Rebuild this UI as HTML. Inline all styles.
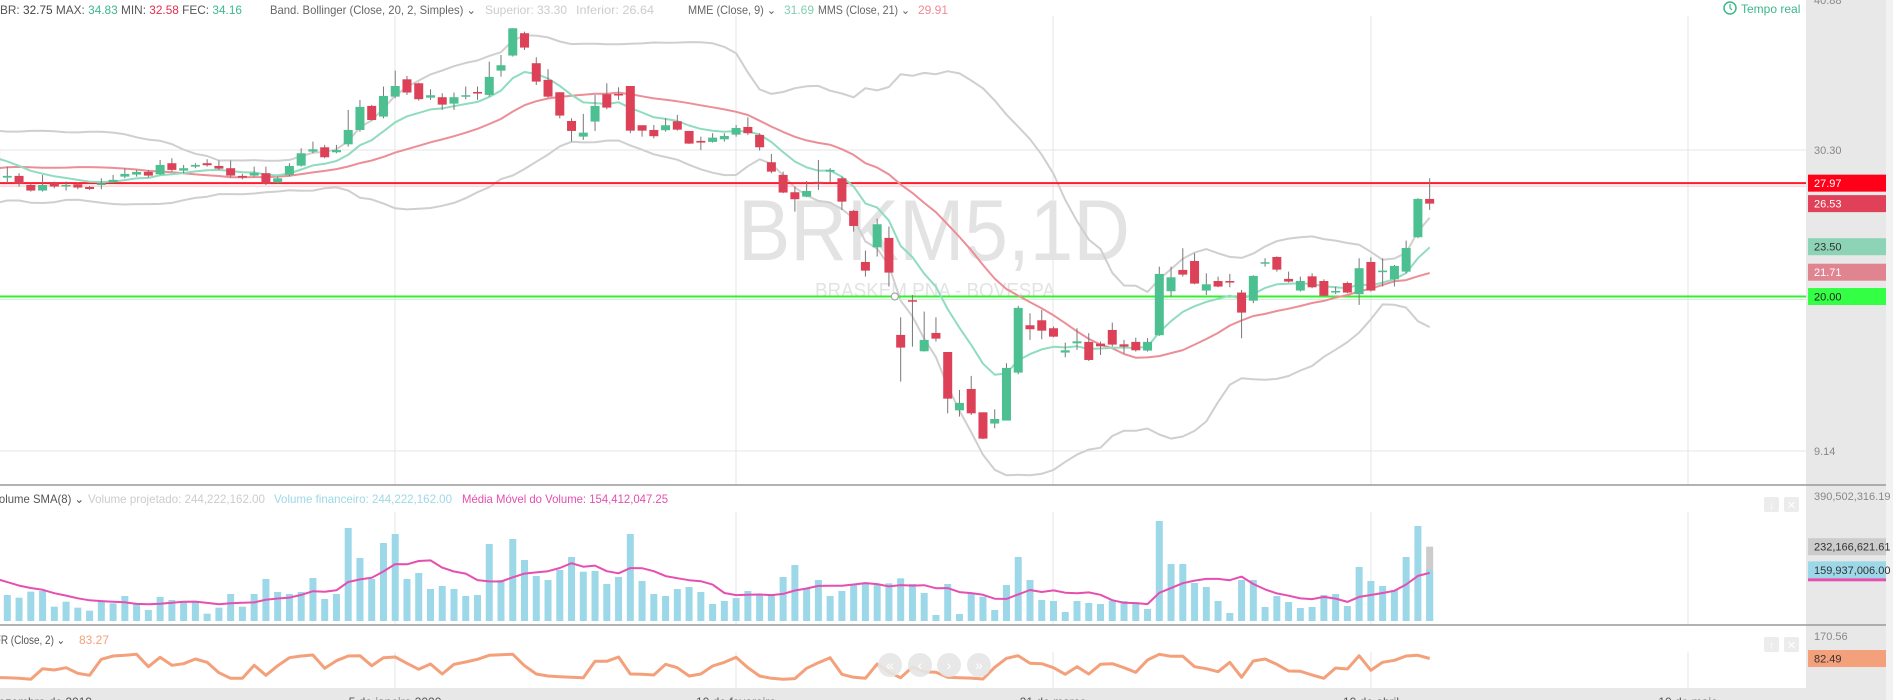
<!DOCTYPE html>
<html><head><meta charset="utf-8">
<style>
html,body{margin:0;padding:0;background:#fff;}
svg{display:block;font-family:"Liberation Sans",sans-serif;}
</style></head>
<body>
<svg id="chart" width="1893" height="700" viewBox="0 0 1893 700" xmlns="http://www.w3.org/2000/svg">
<defs>
<clipPath id="cp-price"><rect x="0" y="0" width="1806" height="485"/></clipPath>
<clipPath id="cp-vol"><rect x="0" y="486" width="1806" height="139"/></clipPath>
<clipPath id="cp-rsi"><rect x="0" y="626" width="1806" height="62"/></clipPath>
</defs>
<rect x="0" y="0" width="1893" height="700" fill="#fff"/>
<rect x="1806" y="0" width="80" height="700" fill="#e8e8e8"/>
<rect x="1886" y="0" width="7" height="700" fill="#f2f2f2"/>
<rect x="0" y="688" width="1806" height="12" fill="#e8e8e8"/>
<g id="grid"></g>
<g>
<text x="738" y="260" font-size="86" fill="#e3e3e3" textLength="392" lengthAdjust="spacingAndGlyphs">BRKM5,1D</text>
<text x="815" y="297" font-size="20" fill="#e3e3e3" textLength="240" lengthAdjust="spacingAndGlyphs">BRASKEM PNA - BOVESPA</text>
</g>
<g id="price" clip-path="url(#cp-price)"></g>
<g id="vol" clip-path="url(#cp-vol)"></g>
<g id="rsi" clip-path="url(#cp-rsi)"></g>
<line x1="0" y1="485" x2="1886" y2="485" stroke="#999" stroke-width="1.5"/>
<line x1="0" y1="625" x2="1886" y2="625" stroke="#999" stroke-width="1.5"/>
<g font-size="12">
<text x="0" y="14" textLength="242" lengthAdjust="spacingAndGlyphs"><tspan fill="#555">BR: </tspan><tspan fill="#444">32.75</tspan><tspan fill="#555"> MAX: </tspan><tspan fill="#3cb88a">34.83</tspan><tspan fill="#555">  MIN: </tspan><tspan fill="#e0304a">32.58</tspan><tspan fill="#555"> FEC: </tspan><tspan fill="#3cb88a">34.16</tspan></text>
<text x="270" y="14" fill="#666" textLength="206" lengthAdjust="spacingAndGlyphs">Band. Bollinger (Close, 20, 2, Simples) ⌄</text>
<text x="485" y="14" fill="#ccc" textLength="82" lengthAdjust="spacingAndGlyphs">Superior: 33.30</text>
<text x="576" y="14" fill="#ccc" textLength="78" lengthAdjust="spacingAndGlyphs">Inferior: 26.64</text>
<text x="688" y="14" fill="#666" textLength="88" lengthAdjust="spacingAndGlyphs">MME (Close, 9) ⌄</text>
<text x="784" y="14" fill="#7fd0b0">31.69</text>
<text x="818" y="14" fill="#666" textLength="92" lengthAdjust="spacingAndGlyphs">MMS (Close, 21) ⌄</text>
<text x="918" y="14" fill="#f08a94">29.91</text>
</g>
<g>
<circle cx="1730" cy="8" r="6" fill="none" stroke="#3cb88a" stroke-width="1.5"/>
<path d="M1730 4 V8 L1732 10" fill="none" stroke="#3cb88a" stroke-width="1.2"/>
<text x="1741" y="13" font-size="12" fill="#3cb88a">Tempo real</text>
</g>
<g font-size="12">
<text x="-8" y="503" fill="#555" textLength="92" lengthAdjust="spacingAndGlyphs">Volume SMA(8) ⌄</text>
<text x="88" y="503" fill="#ccc" textLength="177" lengthAdjust="spacingAndGlyphs">Volume projetado: 244,222,162.00</text>
<text x="274" y="503" fill="#9dd8e8" textLength="178" lengthAdjust="spacingAndGlyphs">Volume financeiro: 244,222,162.00</text>
<text x="462" y="503" fill="#e64eb0" textLength="206" lengthAdjust="spacingAndGlyphs">Média Móvel do Volume: 154,412,047.25</text>
</g>
<g font-size="12">
<text x="-8" y="644" fill="#555" textLength="73" lengthAdjust="spacingAndGlyphs">IFR (Close, 2) ⌄</text>
<text x="79" y="644" fill="#f4a07a">83.27</text>
</g>
<g>
<rect x="1764" y="497" width="15" height="15" rx="2" fill="#ececec"/>
<text x="1771.5" y="509" font-size="11" fill="#fff" text-anchor="middle">↓</text>
<rect x="1784" y="497" width="15" height="15" rx="2" fill="#ececec"/>
<text x="1791.5" y="509" font-size="11" fill="#fff" text-anchor="middle">✕</text>
</g>
<g>
<rect x="1764" y="637" width="15" height="15" rx="2" fill="#ececec"/>
<text x="1771.5" y="649" font-size="11" fill="#fff" text-anchor="middle">↑</text>
<rect x="1784" y="637" width="15" height="15" rx="2" fill="#ececec"/>
<text x="1791.5" y="649" font-size="11" fill="#fff" text-anchor="middle">✕</text>
</g>
<g id="axis"></g>
<g>
<circle cx="890" cy="665" r="12" fill="#e6e6e6" opacity="0.9"/>
<text x="890" y="670" font-size="14" fill="#fff" text-anchor="middle">«</text>
<circle cx="920" cy="665" r="12" fill="#e6e6e6" opacity="0.9"/>
<text x="920" y="670" font-size="14" fill="#fff" text-anchor="middle">‹</text>
<circle cx="949" cy="665" r="12" fill="#e6e6e6" opacity="0.9"/>
<text x="949" y="670" font-size="14" fill="#fff" text-anchor="middle">›</text>
<circle cx="979" cy="665" r="12" fill="#e6e6e6" opacity="0.9"/>
<text x="979" y="670" font-size="14" fill="#fff" text-anchor="middle">»</text>
</g>
</svg>
<script>
const opens=[30.31,28.36,28.48,27.84,27.45,27.96,27.73,27.89,27.70,27.84,28.01,28.43,28.57,28.76,28.59,29.37,28.85,29.13,29.37,29.18,29.02,28.48,28.50,28.67,28.01,28.55,29.20,30.19,30.49,30.14,30.70,31.71,33.40,32.65,34.05,35.27,34.99,33.98,34.01,33.56,34.05,34.38,34.17,35.88,36.94,38.51,36.40,35.23,34.36,32.34,31.24,32.30,34.22,34.24,34.80,32.04,31.71,31.69,32.32,31.64,30.94,30.87,31.05,31.38,31.92,31.36,29.44,28.55,27.33,27.02,28.06,28.78,28.31,26.02,22.43,23.46,24.12,17.30,19.74,16.15,17.44,16.10,12.00,13.50,11.86,11.07,11.28,14.65,17.98,18.33,17.77,16.06,16.71,16.81,16.69,17.65,16.64,16.81,16.20,17.28,20.37,21.87,22.50,20.42,21.09,21.09,20.28,19.71,22.31,22.78,21.24,20.42,21.42,21.09,20.28,20.95,20.16,22.43,21.71,21.21,21.75,24.17,26.86];
const highs=[30.42,29.13,28.67,27.96,28.55,28.08,28.08,28.01,27.77,28.31,28.55,29.02,28.90,28.90,29.60,29.72,29.25,29.37,29.65,29.56,29.56,28.62,29.13,29.13,28.43,29.37,30.42,30.89,30.66,30.66,33.12,33.82,33.47,34.76,35.88,35.51,35.04,34.57,34.29,34.34,34.76,34.76,36.51,36.98,38.86,38.62,36.82,35.98,34.36,32.53,32.84,34.17,34.99,34.71,34.80,32.04,32.06,32.53,32.77,31.64,31.24,31.48,31.48,32.06,32.60,31.48,30.02,28.78,27.73,28.12,29.60,29.02,28.43,26.09,23.23,25.48,24.92,18.54,20.11,18.94,18.54,16.10,13.43,14.42,11.86,12.07,15.31,19.34,18.82,19.06,17.89,16.76,17.77,17.42,16.83,18.17,16.95,17.11,17.07,22.10,22.10,23.39,23.04,21.63,21.40,21.59,20.46,21.49,22.69,22.83,21.75,21.40,21.63,21.21,20.70,21.05,22.69,22.76,22.69,22.22,23.93,26.91,28.31];
const lows=[27.73,27.96,27.73,27.38,27.38,27.61,27.45,27.54,27.49,27.54,27.96,28.31,28.43,28.38,28.55,28.78,28.67,29.02,29.13,28.90,28.38,28.24,28.43,27.84,27.92,28.43,29.13,30.07,29.72,30.07,30.54,31.59,32.37,32.53,33.94,34.17,33.77,33.82,33.12,33.12,33.87,33.82,34.05,35.46,36.87,37.33,34.87,33.98,32.53,30.89,31.01,31.64,33.16,33.82,31.48,31.24,31.12,31.59,31.66,30.73,30.30,30.82,30.89,31.24,31.36,30.26,28.67,27.26,25.97,26.98,27.49,28.01,26.09,24.56,21.40,22.81,20.70,14.02,16.48,16.13,16.83,11.79,11.56,11.67,9.97,10.74,11.28,14.53,16.95,17.00,17.14,15.73,16.25,15.47,15.89,16.48,16.01,16.13,16.13,17.23,20.00,21.40,20.86,20.11,20.65,20.65,17.07,19.53,22.10,21.75,20.98,20.35,20.58,20.04,20.18,20.23,19.41,20.35,20.70,20.70,21.63,24.10,26.09];
const closes=[28.43,28.48,27.92,27.45,27.84,27.73,27.84,27.66,27.56,27.96,28.20,28.62,28.76,28.50,29.25,28.90,29.02,29.25,29.23,28.99,28.50,28.36,28.69,27.92,28.31,29.18,30.07,30.35,29.79,30.30,31.71,33.33,32.41,34.10,34.80,34.34,33.87,34.15,33.49,34.01,34.15,34.27,35.44,36.26,38.86,37.50,35.11,34.05,32.72,31.64,31.52,33.40,33.28,34.13,31.66,31.66,31.27,32.04,31.73,30.75,30.82,31.17,31.29,31.85,31.48,30.49,28.78,27.31,26.84,27.42,27.92,28.90,26.67,24.96,21.82,25.08,21.68,16.41,19.64,16.95,17.04,12.82,12.52,11.79,10.01,11.39,14.98,19.20,17.70,17.60,17.18,16.22,16.85,15.54,16.50,16.62,16.48,16.22,16.81,21.59,21.35,21.54,20.91,20.86,20.70,20.98,18.87,21.45,22.41,21.89,21.05,21.09,20.65,20.06,20.39,20.28,21.99,20.42,21.82,22.15,23.41,26.86,26.53];
const priorCloses=[27.0,26.8,27.3,27.9,28.5,28.0,27.4,27.0,27.6,28.3,29.0,29.6,30.1,30.6,30.2,29.9,30.5,31.0,30.6,30.0,30.3];
const volumesM=[80,81.2,72.8,91.6,93.7,44.8,60.4,41.7,32.3,60.4,55.2,78.1,55.2,34.4,75.0,65.6,59.4,62.5,22.9,41.7,84.3,44.8,84.3,131.2,90.6,84.3,90.6,134.3,68.7,84.3,290.5,196.8,131.2,243.7,271.8,131.2,150.0,100.0,109.3,100.0,78.1,81.2,240.5,128.1,256.2,190.6,140.6,128.1,159.3,199.9,154.0,156.2,115.6,137.5,271.8,125.0,84.3,78.1,100.0,106.2,90.6,53.1,62.5,71.9,93.7,84.3,84.3,137.5,174.9,102.1,128.1,78.1,93.7,112.5,120.8,112.5,117.7,133.3,115.6,87.5,18.7,115.6,21.9,86.4,76.0,34.4,112.5,199.9,128.1,65.6,62.5,28.1,62.5,56.2,53.1,63.5,62.5,58.3,37.5,312.4,178.1,178.1,118.7,106.2,62.5,25.0,128.1,128.1,43.7,78.1,59.4,40.6,43.7,81.2,84.3,46.9,168.7,125.0,109.3,96.8,199.9,296.8,159.937006];
const priorVolumesM=[170,160,150,140,130,120,110];
const projectedVolumeM=232.16662161;
const rsiValues=[8,7.5,5,1,42.7,37.6,46.6,24.6,16.8,79.4,92.4,95,99,50.5,87.3,56,62.2,80.6,67.7,27,5,5,56,16.8,54.4,85.7,92.4,96.3,44.2,74,92.4,93.5,54.4,85.7,88.5,63.8,40.3,61,21.9,59.9,68.9,79.4,95,97.5,99,54.4,21.9,14.1,11.4,9,7.5,71.6,71.6,88.5,21.9,20.7,18,59.9,46.6,14.1,21.9,53.2,67.7,87.3,46.6,14.1,5,1,4,44.2,66.2,85.7,20.7,9,5,61,28.6,7.4,49.3,30.9,28.6,9,7.4,6,2.3,48.1,83.4,93.5,63.8,62.2,46.6,20.7,50.5,21.9,59.9,62.2,46.6,28.6,76.7,99,91.2,91.2,50.5,42.7,30.9,67.7,9,72.8,80.6,59.9,33.7,32.3,18,5,45.4,41.5,93.5,36.4,67.7,75.5,92.4,95.1,82.49];
const priceTicks=[40.88,30.30,9.14];
const volumeTicks=[390502316.19];
const rsiTicks=[170.56];
const emaLast=23.50;
const smaLast=21.71;
const resistanceLevel=27.97;
const supportLevel=20.00;
const dateLabels=["Dezembro de 2019","5 de janeiro 2020","10 de fevereiro","21 de março","10 de abril","10 de maio"];
const dateGridX=[0,395,736,1053,1371,1688];

const NS="http://www.w3.org/2000/svg";
function mk(tag,attrs,parent){const e=document.createElementNS(NS,tag);for(const k in attrs)e.setAttribute(k,attrs[k]);parent.appendChild(e);return e;}
const xOf=i=>-4.455+i*11.755;
const yP=p=>150+(30.30-p)*14.225;
const yV=m=>621-m/390.5*125;
const yR=v=>679.6-v*0.2555;
const fmt=v=>v.toLocaleString('en-US',{minimumFractionDigits:2,maximumFractionDigits:2});

const grid=document.getElementById('grid');
[yP(priceTicks[1]),yP(priceTicks[2])].forEach(y=>{
  const l=mk('line',{x1:0,x2:1806,y1:y,y2:y,stroke:'#e6e6e6','stroke-width':1},grid);
  
  
});
dateGridX.slice(1).forEach(x=>{
  [[16,485],[512,625],[652,688]].forEach(r=>{
    const l=mk('line',{x1:x,x2:x,y1:r[0],y2:r[1],stroke:'#e6e6e6','stroke-width':1},grid);
    
    
  });
});

const pg=document.getElementById('price');
const all=priorCloses.concat(closes);const P=priorCloses.length;
const ema=[],sma=[],bbU=[],bbL=[];
let e=all.slice(0,9).reduce((a,b)=>a+b,0)/9;
for(let k=0;k<all.length;k++){
  if(k>=9)e=all[k]*0.2+e*0.8;
  if(k>=P){
    ema.push(e);
    const w21=all.slice(k-20,k+1);sma.push(w21.reduce((a,b)=>a+b,0)/21);
    const w20=all.slice(k-19,k+1);const m=w20.reduce((a,b)=>a+b,0)/20;
    const sd=Math.sqrt(w20.reduce((a,b)=>a+(b-m)*(b-m),0)/20);
    bbU.push(m+2*sd);bbL.push(m-2*sd);
  }
}
function poly(arr,yf,color,w,name,parent){
  const pts=arr.map((v,i)=>xOf(i).toFixed(1)+','+yf(v).toFixed(1)).join(' ');
  const pl=mk('polyline',{points:pts,fill:'none',stroke:color,'stroke-width':w,'stroke-linejoin':'round'},parent);
  
  
}
poly(bbU,yP,'#cfcfcf',2,'bollinger-upper',pg);
poly(bbL,yP,'#cfcfcf',2,'bollinger-lower',pg);

[[resistanceLevel,'#ff1a2e','#ffc0c6','resistance-line'],[supportLevel,'#33ee33','#c8f7c8','support-line']].forEach(d=>{
  const y=yP(d[0]);
  mk('line',{x1:0,x2:1806,y1:y+3,y2:y+3,stroke:d[2],'stroke-width':1},pg);
  const l=mk('line',{x1:0,x2:1806,y1:y,y2:y,stroke:d[1],'stroke-width':2},pg);
  
  
});

poly(sma,yP,'#ec8e97',2,'sma21-line',pg);
poly(ema,yP,'#8fdcbf',2,'ema9-line',pg);

for(let i=0;i<closes.length;i++){
  const x=xOf(i),up=closes[i]>=opens[i];
  const col=up?'#4cc090':'#dd4157';
  const w=mk('line',{x1:x,x2:x,y1:yP(highs[i]),y2:yP(lows[i]),stroke:'#777','stroke-width':1},pg);
  
  
  const t=yP(Math.max(opens[i],closes[i])),b=yP(Math.min(opens[i],closes[i]));
  const r=mk('rect',{x:x-4.5,y:t,width:9,height:Math.max(1.5,b-t),fill:col},pg);
  
  
}
const mark=mk('circle',{cx:xOf(76.5),cy:yP(supportLevel),r:3.5,fill:'#fff',stroke:'#999','stroke-width':1},pg);



const vg=document.getElementById('vol');
const lastI=volumesM.length-1;
const pj=mk('rect',{x:xOf(lastI)-3.5,y:yV(projectedVolumeM),width:7,height:yV(0)-yV(projectedVolumeM),fill:'#cccccc'},vg);


volumesM.forEach((v,i)=>{
  const r=mk('rect',{x:xOf(i)-3.5,y:yV(v),width:7,height:yV(0)-yV(v),fill:'#9dd8e8'},vg);
  
  
});
const allV=priorVolumesM.concat(volumesM);const vsma=[];
for(let k=priorVolumesM.length;k<allV.length;k++){vsma.push(allV.slice(k-7,k+1).reduce((a,b)=>a+b,0)/8);}
poly(vsma,yV,'#e64eb0',2,'volume-sma-line',vg);

const rg=document.getElementById('rsi');
poly(rsiValues,yR,'#f4a07a',3,'rsi-line',rg);

const ax=document.getElementById('axis');
function lbl(txt,y,fill,bg,name){
  if(bg){const b=mk('rect',{x:1808,y:y-8.5,width:78,height:17,fill:bg},ax);
    
    }
  const t=mk('text',{x:1814,y:y+4,'font-size':11,fill:fill},ax);t.textContent=txt;
  
  
}
lbl(priceTicks[0].toFixed(2),0,'#888',null,'price-tick');
lbl(priceTicks[1].toFixed(2),yP(priceTicks[1]),'#888',null,'price-tick');
lbl(priceTicks[2].toFixed(2),yP(priceTicks[2]),'#888',null,'price-tick');
lbl(resistanceLevel.toFixed(2),yP(resistanceLevel),'#fff','#ff0018','resistance-label');
lbl(closes[lastI].toFixed(2),yP(closes[lastI]),'#fff','#e04058','last-price-label');
lbl(emaLast.toFixed(2),yP(emaLast),'#333','#8dd3b6','ema-label');
lbl(smaLast.toFixed(2),yP(smaLast),'#fff','#e08590','sma-label');
lbl(supportLevel.toFixed(2),yP(supportLevel),'#222','#33ff44','support-label');
lbl(fmt(volumeTicks[0]),496,'#888',null,'volume-tick');
lbl(fmt(projectedVolumeM*1e6),yV(projectedVolumeM),'#333','#cccccc','projected-volume-label');
lbl(fmt(volumesM[lastI]*1e6),yV(volumesM[lastI]),'#333','#9dd8e8','volume-label');
const pk=mk('rect',{x:1808,y:yV(volumesM[lastI])+8.5,width:78,height:3,fill:'#e64eb0'},ax);


lbl(rsiTicks[0].toFixed(2),636,'#888',null,'rsi-tick');
lbl(rsiValues[lastI].toFixed(2),yR(rsiValues[lastI]),'#333','#f4a07a','rsi-label');
dateLabels.forEach((d,i)=>{
  const t=mk('text',{x:i===0?-10:dateGridX[i],y:706,'font-size':12,fill:'#555','text-anchor':i===0?'start':'middle'},ax);
  t.textContent=d;
  
  
});
</script>
</body></html>
